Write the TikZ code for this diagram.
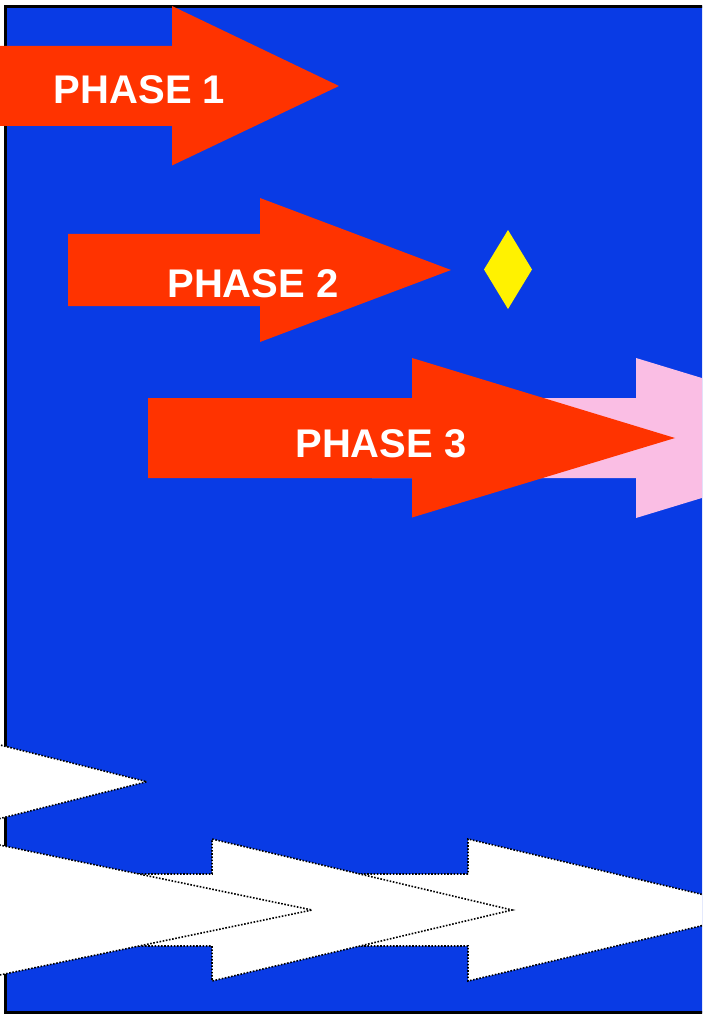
\documentclass[tikz,border=0pt]{standalone}
\usepackage{fontspec}
\setmainfont{Liberation Sans}
\begin{document}
\begin{tikzpicture}[x=1pt,y=-1pt]
\definecolor{panelblue}{RGB}{9,59,229}
\definecolor{phasered}{RGB}{255,51,0}
\definecolor{softpink}{RGB}{250,190,228}
\tikzset{
  phasearrow/.style={fill=phasered},
  ghostarrow/.style={fill=white, draw=black, line width=1.6pt,
    dash pattern=on 1.6pt off 1.6pt},
  phaselabel/.style={text=white, inner sep=0pt, anchor=base,
    font=\bfseries\fontsize{40}{48}\selectfont}
}
\useasboundingbox (0,0) rectangle (702,1016);
\clip (0,0) rectangle (702,1016);

% blue panel with its frame (open to the right)
\fill[panelblue] (5.5,6.5) rectangle (730,1012.5);
\draw[line width=3pt] (730,6.5) -- (5.5,6.5) -- (5.5,1012.5) -- (730,1012.5);

% pink arrow behind phase 3
\fill[softpink] (372,398) -- (636,398) -- (636,358) -- (899,438)
  -- (636,518) -- (636,478) -- (372,478) -- cycle;

% phase arrows
\fill[phasearrow] (148,398) -- (412,398) -- (412,358) -- (675,438)
  -- (412,517.5) -- (412,478) -- (148,478) -- cycle;
\fill[phasearrow] (68,234) -- (260,234) -- (260,198) -- (451,270)
  -- (260,342) -- (260,306) -- (68,306) -- cycle;
\fill[phasearrow] (-10,46) -- (172,46) -- (172,6) -- (339,86)
  -- (172,165.5) -- (172,126) -- (-10,126) -- cycle;

\node[phaselabel] (p1) at (139.5,104) {PHASE 1};
\node[phaselabel] (p2) at (253,297) {PHASE 2};
\node[phaselabel] (p3) at (381,457) {PHASE 3};

% yellow marker
\fill[yellow] (508,230) -- (532,269.5) -- (508,309) -- (484,269.5) -- cycle;

% white outlined arrows along the bottom
\path[ghostarrow] (300,874) -- (468,874) -- (468,839) -- (768,910)
  -- (468,981) -- (468,946) -- (300,946) -- cycle;
\path[ghostarrow] (-60,874) -- (212,874) -- (212,839) -- (512,910)
  -- (212,981) -- (212,946) -- (-60,946) -- cycle;
\path[ghostarrow] (-40,890) -- (-10,890) -- (-10,843) -- (312,910)
  -- (-10,977) -- (-10,930) -- (-40,930) -- cycle;
\path[ghostarrow] (-40,762) -- (-10,762) -- (-10,742.5) -- (146.7,781.7)
  -- (-10,821) -- (-10,801) -- (-40,801) -- cycle;
\end{tikzpicture}
\end{document}
